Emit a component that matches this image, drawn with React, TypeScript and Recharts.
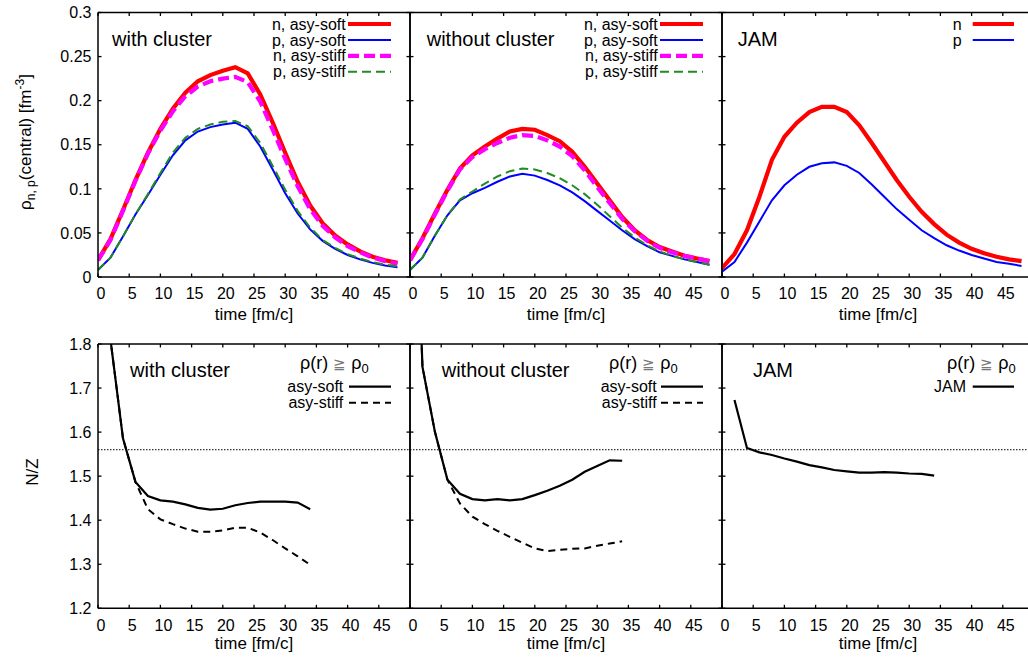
import React from 'react';
import { LineChart, Line, XAxis, YAxis, ReferenceLine } from 'recharts';

const FONT = '"Liberation Sans", Arial, Helvetica, sans-serif';

// ---------- data ----------
const timeTop = [0, 2, 4, 6, 8, 10, 12, 14, 16, 18, 20, 22, 24, 26, 28, 30, 32, 34, 36, 38, 40, 42, 44, 46, 48];

// with cluster: central densities
const wcNSoft = [0.019, 0.043, 0.076, 0.110, 0.141, 0.168, 0.191, 0.209, 0.222, 0.229, 0.234, 0.238, 0.231, 0.207, 0.175, 0.141, 0.108, 0.081, 0.061, 0.047, 0.037, 0.029, 0.023, 0.019, 0.016];
const wcPSoft = [0.008, 0.022, 0.046, 0.071, 0.093, 0.116, 0.138, 0.155, 0.165, 0.170, 0.173, 0.175, 0.168, 0.148, 0.122, 0.095, 0.072, 0.054, 0.041, 0.032, 0.025, 0.020, 0.016, 0.013, 0.011];
const wcNStiff = [0.019, 0.042, 0.075, 0.109, 0.140, 0.166, 0.188, 0.205, 0.216, 0.222, 0.225, 0.227, 0.221, 0.199, 0.167, 0.134, 0.103, 0.077, 0.058, 0.045, 0.035, 0.028, 0.022, 0.018, 0.015];
const wcPStiff = [0.008, 0.022, 0.046, 0.071, 0.094, 0.118, 0.141, 0.158, 0.168, 0.173, 0.176, 0.177, 0.171, 0.152, 0.126, 0.099, 0.075, 0.056, 0.042, 0.033, 0.026, 0.021, 0.017, 0.014, 0.012];

// without cluster: central densities
const wocNSoft = [0.019, 0.044, 0.072, 0.099, 0.123, 0.138, 0.148, 0.157, 0.165, 0.168, 0.167, 0.161, 0.154, 0.142, 0.125, 0.106, 0.087, 0.068, 0.053, 0.042, 0.034, 0.029, 0.024, 0.021, 0.018];
const wocPSoft = [0.008, 0.022, 0.047, 0.070, 0.087, 0.095, 0.101, 0.108, 0.114, 0.117, 0.115, 0.110, 0.104, 0.096, 0.086, 0.075, 0.064, 0.053, 0.043, 0.035, 0.028, 0.024, 0.020, 0.017, 0.014];
const wocNStiff = [0.019, 0.043, 0.071, 0.098, 0.122, 0.136, 0.145, 0.152, 0.158, 0.161, 0.160, 0.155, 0.148, 0.137, 0.121, 0.102, 0.084, 0.066, 0.052, 0.041, 0.033, 0.028, 0.024, 0.021, 0.018];
const wocPStiff = [0.008, 0.022, 0.047, 0.070, 0.088, 0.097, 0.106, 0.114, 0.120, 0.123, 0.122, 0.118, 0.112, 0.104, 0.094, 0.082, 0.069, 0.056, 0.045, 0.036, 0.029, 0.024, 0.020, 0.017, 0.014];

// JAM: central densities
const jamN = [0.010, 0.026, 0.053, 0.091, 0.133, 0.159, 0.175, 0.187, 0.193, 0.193, 0.187, 0.172, 0.152, 0.131, 0.110, 0.091, 0.074, 0.060, 0.048, 0.039, 0.032, 0.027, 0.023, 0.020, 0.018];
const jamP = [0.006, 0.017, 0.039, 0.063, 0.087, 0.104, 0.116, 0.125, 0.129, 0.130, 0.126, 0.118, 0.105, 0.091, 0.077, 0.065, 0.053, 0.044, 0.036, 0.030, 0.025, 0.021, 0.017, 0.015, 0.0125];

// N/Z for rho(r) >= rho0
const timeBottom = [0, 2, 4, 6, 8, 10, 12, 14, 16, 18, 20, 22, 24, 26, 28, 30, 32, 34];
const wcNZSoft = [2.5, 1.81, 1.586, 1.487, 1.455, 1.445, 1.442, 1.436, 1.428, 1.424, 1.426, 1.434, 1.439, 1.442, 1.442, 1.442, 1.44, 1.425];
const wcNZStiff = [2.5, 1.81, 1.586, 1.487, 1.425, 1.402, 1.391, 1.381, 1.374, 1.374, 1.377, 1.383, 1.383, 1.372, 1.355, 1.336, 1.318, 1.299];
const wocNZSoft = [2.5, 1.748, 1.60, 1.492, 1.46, 1.448, 1.445, 1.448, 1.445, 1.448, 1.457, 1.467, 1.478, 1.492, 1.51, 1.523, 1.536, 1.535];
const wocNZStiff = [2.5, 1.748, 1.60, 1.492, 1.438, 1.408, 1.391, 1.376, 1.362, 1.349, 1.336, 1.33, 1.333, 1.335, 1.336, 1.342, 1.347, 1.352];
const jamNZ = [null, 1.673, 1.564, 1.554, 1.548, 1.54, 1.533, 1.525, 1.52, 1.514, 1.511, 1.508, 1.508, 1.509, 1.508, 1.506, 1.505, 1.501];
const nzReference = 1.56;

// axes / labels
const xTicks = [0, 5, 10, 15, 20, 25, 30, 35, 40, 45];
const xDomain = [0, 50];
const rhoTicks = [0, 0.05, 0.1, 0.15, 0.2, 0.25, 0.3];
const rhoDomain = [0, 0.3];
const nzTicks = [1.2, 1.3, 1.4, 1.5, 1.6, 1.7, 1.8];
const nzDomain = [1.2, 1.8];
const panelTitles = ['with cluster', 'without cluster', 'JAM'];
const topLegend = ['n, asy-soft', 'p, asy-soft', 'n, asy-stiff', 'p, asy-stiff'];
const topLegendJam = ['n', 'p'];
const bottomLegend = ['asy-soft', 'asy-stiff'];
const bottomLegendJam = ['JAM'];
const xLabel = 'time [fm/c]';

// ---------- styles ----------
type S = { key: string; color: string; width: number; dash?: string };
const sNSoft: S = { key: 'a', color: '#ff0000', width: 4.2 };
const sPSoft: S = { key: 'b', color: '#0000ff', width: 2 };
const sNStiff: S = { key: 'c', color: '#ff00ff', width: 4.2, dash: '11 5' };
const sPStiff: S = { key: 'd', color: '#228b22', width: 2, dash: '9 5' };
const sSoft: S = { key: 'a', color: '#000000', width: 2.2 };
const sStiff: S = { key: 'b', color: '#000000', width: 2, dash: '7 5' };

function build(times: number[], cols: (number | null)[][]) {
  const keys = ['a', 'b', 'c', 'd'];
  return times.map((t, i) => {
    const o: any = { t };
    cols.forEach((c, j) => (o[keys[j]] = c[i]));
    return o;
  });
}

const dataTop = [
  build(timeTop, [wcNSoft, wcPSoft, wcNStiff, wcPStiff]),
  build(timeTop, [wocNSoft, wocPSoft, wocNStiff, wocPStiff]),
  build(timeTop, [jamN, jamP]),
];
const dataBottom = [
  build(timeBottom, [wcNZSoft, wcNZStiff]),
  build(timeBottom, [wocNZSoft, wocNZStiff]),
  build(timeBottom, [jamNZ]),
];
const seriesTop = [[sNSoft, sPSoft, sNStiff, sPStiff], [sNSoft, sPSoft, sNStiff, sPStiff], [sNSoft, sPSoft]];
const seriesBottom = [[sSoft, sStiff], [sSoft, sStiff], [sSoft]];

// ---------- layout ----------
const PANEL_LEFT = [98, 410, 722];
const PANEL_W = 312;
const TOP_PLOT = [12.5, 277];
const BOT_PLOT = [344, 608.3];
const TICK_LEN = 3.5;
const TICK_W = 1.3;

type Rect = { l: number; r: number; t: number; b: number };

// bottom axis: inward tick mark + label
const XTick = (props: any) => {
  const { payload, rect } = props as { payload: any; rect: Rect };
  const c = payload.coordinate;
  const gap = props.gap as number;
  return (
    <g>
      <path d={`M${c},${rect.b}V${rect.b - TICK_LEN}`} stroke="#000" strokeWidth={TICK_W} fill="none" />
      <text x={c + 3} y={rect.b + gap} dy="0.355em" textAnchor="middle" fontSize={16} fontFamily={FONT} fill="#000" stroke="none">
        {String(payload.value)}
      </text>
    </g>
  );
};
// top axis: inward tick mark only
const XTopTick = (props: any) => {
  const { payload, rect } = props as { payload: any; rect: Rect };
  const c = payload.coordinate;
  return <path d={`M${c},${rect.t}V${rect.t + TICK_LEN}`} stroke="#000" strokeWidth={TICK_W} fill="none" />;
};
// left axis: inward tick mark (+ label if wanted)
const YTick = (props: any) => {
  const { payload, rect, showLabel } = props as { payload: any; rect: Rect; showLabel: boolean };
  const c = payload.coordinate;
  return (
    <g>
      <path d={`M${rect.l},${c}H${rect.l + TICK_LEN}`} stroke="#000" strokeWidth={TICK_W} fill="none" />
      {showLabel && (
        <text x={rect.l - 6.5} y={c} dy="0.355em" textAnchor="end" fontSize={16} fontFamily={FONT} fill="#000" stroke="none">
          {String(payload.value)}
        </text>
      )}
    </g>
  );
};
// right axis: inward tick mark only
const YRightTick = (props: any) => {
  const { payload, rect } = props as { payload: any; rect: Rect };
  const c = payload.coordinate;
  return <path d={`M${rect.r},${c}H${rect.r - TICK_LEN}`} stroke="#000" strokeWidth={TICK_W} fill="none" />;
};

const axisLine = { stroke: '#000', strokeWidth: 1.5 };

function Panel({ row, col }: { row: number; col: number }) {
  const isTop = row === 0;
  const left = col === 0 ? 0 : PANEL_LEFT[col] - 10;
  const leftW = col === 0 ? 98 : 10;
  const width = leftW + PANEL_W + 10;
  const top = isTop ? 0 : 320;
  const height = isTop ? 330 : 338;
  const plot = isTop ? TOP_PLOT : BOT_PLOT;
  const topH = plot[0] - top;
  const botH = top + height - plot[1];
  const rect: Rect = { l: leftW, r: leftW + PANEL_W, t: topH, b: height - botH };
  const data = isTop ? dataTop[col] : dataBottom[col];
  const series = isTop ? seriesTop[col] : seriesBottom[col];
  const yDomain = isTop ? rhoDomain : nzDomain;
  const yTicks = isTop ? rhoTicks : nzTicks;
  return (
    <div style={{ position: 'absolute', left, top, width, height }}>
      <LineChart width={width} height={height} data={data} margin={{ top: 0, right: 0, bottom: 0, left: 0 }}>
        <XAxis
          xAxisId="b"
          dataKey="t"
          type="number"
          domain={xDomain}
          ticks={xTicks}
          interval={0}
          orientation="bottom"
          height={botH}
          tick={<XTick rect={rect} gap={isTop ? 16.3 : 16.8} />}
          tickLine={false}
          axisLine={axisLine}
          allowDataOverflow
        />
        <XAxis
          xAxisId="t"
          dataKey="t"
          type="number"
          domain={xDomain}
          ticks={xTicks}
          interval={0}
          orientation="top"
          height={topH}
          tick={<XTopTick rect={rect} />}
          tickLine={false}
          axisLine={axisLine}
          allowDataOverflow
        />
        <YAxis
          yAxisId="l"
          orientation="left"
          type="number"
          width={leftW}
          domain={yDomain}
          ticks={yTicks}
          interval={0}
          tick={<YTick rect={rect} showLabel={col === 0} />}
          tickLine={false}
          axisLine={axisLine}
          allowDataOverflow
        />
        <YAxis
          yAxisId="r"
          orientation="right"
          type="number"
          width={10}
          domain={yDomain}
          ticks={yTicks}
          interval={0}
          tick={<YRightTick rect={rect} />}
          tickLine={false}
          axisLine={axisLine}
          allowDataOverflow
        />
        {!isTop && (
          <ReferenceLine
            xAxisId="b"
            yAxisId="l"
            y={nzReference}
            stroke="#000"
            strokeWidth={1}
            strokeDasharray="1.5 1.5"
          />
        )}
        {series.map((s) => (
          <Line
            key={s.key}
            xAxisId="b"
            yAxisId="l"
            type="linear"
            dataKey={s.key}
            stroke={s.color}
            strokeWidth={s.width}
            strokeDasharray={s.dash}
            dot={false}
            activeDot={false}
            connectNulls={false}
            isAnimationActive={false}
          />
        ))}
      </LineChart>
    </div>
  );
}

function LegendRows({ labels, series, col, ys, textEnd, lineStart, lineEnd }: any) {
  const x0 = PANEL_LEFT[col];
  return (
    <g>
      {labels.map((lab: string, i: number) => {
        const s: S = series[i];
        return (
          <g key={lab}>
            <text x={x0 + textEnd} y={ys[i] + 5.5} textAnchor="end" fontSize={16} fontFamily={FONT} fill="#000">
              {lab}
            </text>
            <line
              x1={x0 + lineStart}
              x2={x0 + lineEnd}
              y1={ys[i]}
              y2={ys[i]}
              stroke={s.color}
              strokeWidth={s.width}
              strokeDasharray={s.dash}
            />
          </g>
        );
      })}
    </g>
  );
}

function Overlay() {
  const topTitleX = [112, 426.7, 737.7];
  const botTitleX = [130, 441.7, 753];
  const rhoHeaderX = [300, 609, 947];
  return (
    <svg width={1028} height={658} style={{ position: 'absolute', left: 0, top: 0, pointerEvents: 'none' }}>
      {/* y labels */}
      <text transform="translate(31,142) rotate(-90)" textAnchor="middle" fontSize={17} fontFamily={FONT} fill="#000">
        ρ<tspan fontSize={12} dy={4}>n, p</tspan>
        <tspan dy={-4}>(central) [fm</tspan>
        <tspan fontSize={12} dy={-7}>-3</tspan>
        <tspan dy={7}>]</tspan>
      </text>
      <text transform="translate(38,472) rotate(-90)" textAnchor="middle" fontSize={17} fontFamily={FONT} fill="#000">
        N/Z
      </text>
      {/* x labels */}
      {[0, 1, 2].map((c) => (
        <g key={'xl' + c}>
          <text x={PANEL_LEFT[c] + PANEL_W / 2} y={319.5} textAnchor="middle" fontSize={17} fontFamily={FONT} fill="#000">
            {xLabel}
          </text>
          <text x={PANEL_LEFT[c] + PANEL_W / 2} y={649} textAnchor="middle" fontSize={17} fontFamily={FONT} fill="#000">
            {xLabel}
          </text>
        </g>
      ))}
      {/* titles */}
      {panelTitles.map((t, c) => (
        <g key={'t' + c}>
          <text x={topTitleX[c]} y={46} fontSize={20} fontFamily={FONT} fill="#000">{t}</text>
          <text x={botTitleX[c]} y={377} fontSize={20} fontFamily={FONT} fill="#000">{t}</text>
        </g>
      ))}
      {/* top legends */}
      <LegendRows labels={topLegend} series={seriesTop[0]} col={0} ys={[24, 40, 55.8, 71.7]} textEnd={247.7} lineStart={250} lineEnd={293} />
      <LegendRows labels={topLegend} series={seriesTop[1]} col={1} ys={[24, 40, 55.8, 71.7]} textEnd={247.7} lineStart={250} lineEnd={293} />
      <LegendRows labels={topLegendJam} series={seriesTop[2]} col={2} ys={[24, 40]} textEnd={239.7} lineStart={250.7} lineEnd={292} />
      {/* bottom legend headers */}
      {rhoHeaderX.map((x, c) => (
        <text key={'h' + c} x={x} y={369} fontSize={18} fontFamily={FONT} fill="#000">
          ρ(r) <tspan fill="#777" fontSize={15}>≧</tspan> ρ<tspan fontSize={13} dy={4}>0</tspan>
        </text>
      ))}
      <LegendRows labels={bottomLegend} series={seriesBottom[0]} col={0} ys={[386.7, 402.7]} textEnd={245.3} lineStart={251} lineEnd={293} />
      <LegendRows labels={bottomLegend} series={seriesBottom[1]} col={1} ys={[386.7, 402.7]} textEnd={246.7} lineStart={251} lineEnd={293} />
      <LegendRows labels={bottomLegendJam} series={seriesBottom[2]} col={2} ys={[386.7]} textEnd={244} lineStart={250.7} lineEnd={292} />
    </svg>
  );
}

export default function App() {
  return (
    <div
      style={{
        position: 'absolute',
        left: 0,
        top: 0,
        width: 1028,
        height: 658,
        overflow: 'hidden',
        background: '#fff',
        fontFamily: FONT,
      }}
    >
      {[0, 1].map((r) => [0, 1, 2].map((c) => <Panel key={r + '-' + c} row={r} col={c} />))}
      <Overlay />
    </div>
  );
}
